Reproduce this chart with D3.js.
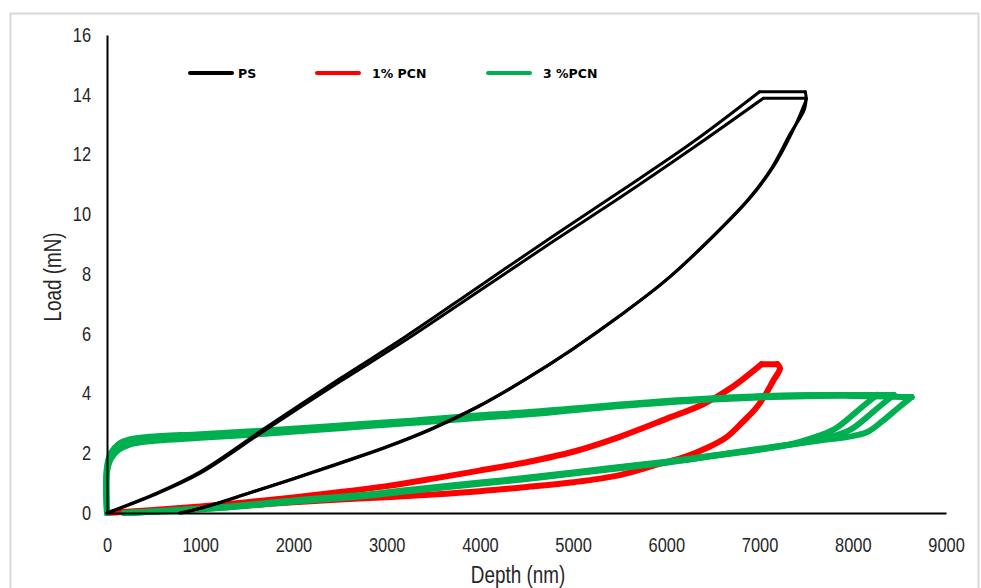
<!DOCTYPE html>
<html>
<head>
<meta charset="utf-8">
<script src="https://d3js.org/d3.v7.min.js"></script>
<style>
  body { margin: 0; background: #fff; }
  .tick text { font-family: "Liberation Sans", Arial, sans-serif; font-size: 20px; fill: #262626; }
  .title { font-family: "Liberation Sans", Arial, sans-serif; font-size: 23px; fill: #262626; }
  .legend text { font-family: "DejaVu Sans", Verdana, sans-serif; font-weight: bold; font-size: 12.5px; fill: #000; }
</style>
</head>
<body>
<div id="chart"></div>
<script>
// series
const seriesNames = ["PS", "1% PCN", "3 %PCN"];
const seriesColors = ["#000000", "#ff0000", "#00b050"];

const xTicks = [0, 1000, 2000, 3000, 4000, 5000, 6000, 7000, 8000, 9000];
const yTicks = [0, 2, 4, 6, 8, 10, 12, 14, 16];

// [depth nm, load mN]; each indentation = loading curve, then unloading curve
// PS
const psLoad1 = [
  [0, 0], [500, 0.62], [1000, 1.38], [1700, 2.85], [2500, 4.5], [3200, 5.9], [4000, 7.6],
  [4800, 9.3], [5500, 10.75], [6300, 12.45], [7000, 14.1]
];
const psUnload1 = [
  [7490, 14.1], [7500, 13.85], [7470, 13.6], [7350, 12.75], [7150, 11.6], [6900, 10.55],
  [6500, 9.25], [6000, 7.8], [5500, 6.6], [5000, 5.5], [4500, 4.5], [4000, 3.6],
  [3500, 2.85], [3000, 2.22], [2500, 1.68], [2000, 1.15], [1500, 0.65], [1100, 0.25], [800, 0]
];
const psLoad2 = [
  [0, 0], [500, 0.6], [1000, 1.33], [1700, 2.78], [2500, 4.4], [3200, 5.78], [4000, 7.45],
  [4800, 9.12], [5500, 10.55], [6300, 12.25], [7040, 13.88]
];
const psUnload2 = [
  [7500, 13.88], [7480, 13.5], [7330, 12.7], [7130, 11.55], [6880, 10.5], [6480, 9.2],
  [5980, 7.75], [5480, 6.55], [4980, 5.45], [4480, 4.45], [3980, 3.55], [3480, 2.8],
  [2980, 2.18], [2480, 1.64], [1980, 1.12], [1480, 0.62], [1080, 0.22], [780, 0]
];

// 1% PCN
const pcn1Load1 = [
  [0, 0], [500, 0.1], [1000, 0.22], [1500, 0.36], [2000, 0.52], [2500, 0.7], [3000, 0.9],
  [3500, 1.15], [4000, 1.42], [4500, 1.7], [5000, 2.05], [5500, 2.55], [6000, 3.15],
  [6400, 3.65], [6700, 4.2], [7020, 4.98]
];
const pcn1Unload1 = [
  [7190, 4.98], [7220, 4.85], [7145, 4.42], [7070, 4.0], [6960, 3.5], [6820, 3.05],
  [6650, 2.55], [6450, 2.2], [6200, 1.88], [5900, 1.62], [5500, 1.27], [5000, 1.03],
  [4500, 0.87], [4000, 0.73], [3500, 0.62], [3000, 0.53], [2500, 0.45], [2000, 0.36],
  [1500, 0.26], [1000, 0.16], [500, 0.06], [200, 0]
];

// 3 %PCN
const pcn3Load1 = [
  [0, 0], [0, 1.55], [40, 2.0], [120, 2.3], [250, 2.47], [450, 2.55], [1000, 2.64],
  [1700, 2.76], [2500, 2.93], [3300, 3.1], [4000, 3.27], [4500, 3.37], [5000, 3.5],
  [5500, 3.63], [6000, 3.75], [6500, 3.84], [7000, 3.91], [7500, 3.94], [8260, 3.95]
];
const pcn3Unload1 = [
  [8260, 3.95], [8100, 3.55], [7950, 3.15], [7800, 2.8], [7650, 2.6], [7450, 2.4], [7300, 2.28],
  [7000, 2.12], [6600, 1.95], [6000, 1.68], [5500, 1.5], [5000, 1.32], [4450, 1.12],
  [4000, 0.98], [3200, 0.72], [2800, 0.58], [2000, 0.38], [1350, 0.2], [700, 0.07], [220, 0]
];
const pcn3Load2 = [
  [0, 0], [0, 1.45], [40, 1.9], [120, 2.2], [250, 2.38], [450, 2.46], [1000, 2.57],
  [1700, 2.7], [2500, 2.88], [3300, 3.05], [4000, 3.22], [4500, 3.33], [5000, 3.46],
  [5500, 3.6], [6000, 3.72], [6500, 3.82], [7000, 3.9], [7500, 3.94], [8440, 3.95]
];
const pcn3Unload2 = [
  [8440, 3.95], [8280, 3.55], [8130, 3.15], [7980, 2.8], [7820, 2.6], [7600, 2.45], [7350, 2.3],
  [7000, 2.13], [6600, 1.96], [6000, 1.7], [5500, 1.52], [5000, 1.34], [4450, 1.14],
  [4000, 1.0], [3200, 0.74], [2800, 0.6], [2000, 0.4], [1350, 0.21], [700, 0.08], [200, 0]
];
const pcn3Load3 = [
  [0, 0], [0, 1.35], [40, 1.8], [120, 2.1], [250, 2.3], [450, 2.4], [1000, 2.52],
  [1700, 2.65], [2500, 2.84], [3300, 3.02], [4000, 3.19], [4500, 3.3], [5000, 3.44],
  [5500, 3.58], [6000, 3.7], [6500, 3.8], [7000, 3.87], [7500, 3.91], [8000, 3.92], [8630, 3.88]
];
const pcn3Unload3 = [
  [8630, 3.88], [8480, 3.5], [8320, 3.08], [8150, 2.7], [7950, 2.55], [7700, 2.45], [7400, 2.32],
  [7000, 2.15], [6600, 1.97], [6000, 1.72], [5500, 1.54], [5000, 1.36], [4450, 1.16],
  [4000, 1.02], [3200, 0.76], [2800, 0.62], [2000, 0.42], [1350, 0.23], [700, 0.09], [180, 0]
];

const runs = [
  { s: 1, load: pcn1Load1, unload: pcn1Unload1 },
  { s: 2, load: pcn3Load1, unload: pcn3Unload1 },
  { s: 2, load: pcn3Load2, unload: pcn3Unload2 },
  { s: 2, load: pcn3Load3, unload: pcn3Unload3 },
  { s: 0, load: psLoad1, unload: psUnload1 },
  { s: 0, load: psLoad2, unload: psUnload2 }
];

const width = 981, height = 588;
const strokeW = [3, 6, 6];

const svg = d3.select("#chart").append("svg")
  .attr("width", width)
  .attr("height", height);

// chart area border
svg.append("rect")
  .attr("x", 10.5).attr("y", 13.5)
  .attr("width", 968).attr("height", 620)
  .attr("fill", "none")
  .attr("stroke", "#d9d9d9")
  .attr("stroke-width", 2);

const x = d3.scaleLinear().domain([0, 9000]).range([107, 946]);
const y = d3.scaleLinear().domain([0, 16]).range([513, 35]);

const smooth = d3.line()
  .x(d => x(d[0]))
  .y(d => y(d[1]))
  .curve(d3.curveCatmullRom.alpha(0.5));
const straight = d3.line()
  .x(d => x(d[0]))
  .y(d => y(d[1]));

// loading, hold and unloading drawn as separate pieces so the corners stay sharp
const pieces = [];
runs.forEach(r => {
  pieces.push({ s: r.s, d: smooth(r.load) });
  pieces.push({ s: r.s, d: straight([r.load[r.load.length - 1], r.unload[0]]) });
  pieces.push({ s: r.s, d: smooth(r.unload) });
});

svg.append("g")
  .selectAll("path")
  .data(pieces)
  .join("path")
  .attr("d", d => d.d)
  .attr("fill", "none")
  .attr("stroke", d => seriesColors[d.s])
  .attr("stroke-width", d => strokeW[d.s])
  .attr("stroke-linejoin", "round")
  .attr("stroke-linecap", "round");

// narrow the Arial-like text to look like the original condensed face
function narrow(sel) {
  sel.each(function () {
    const w = this.getComputedTextLength();
    d3.select(this).attr("textLength", w * 0.82).attr("lengthAdjust", "spacingAndGlyphs");
  });
}

const xAxis = svg.append("g")
  .attr("transform", `translate(0,${y(0)})`)
  .call(d3.axisBottom(x).tickValues(xTicks).tickSize(0).tickSizeOuter(0).tickPadding(25).tickFormat(d3.format("d")));
xAxis.select(".domain").attr("stroke", "#000").attr("stroke-width", 2);
xAxis.selectAll(".tick text").call(narrow);

const yAxis = svg.append("g")
  .attr("transform", `translate(${x(0)},0)`)
  .call(d3.axisLeft(y).tickValues(yTicks).tickSize(0).tickSizeOuter(0).tickPadding(16));
yAxis.select(".domain").attr("stroke", "#000").attr("stroke-width", 2);
yAxis.selectAll(".tick text").call(narrow);

svg.append("text")
  .attr("class", "title")
  .attr("x", 518).attr("y", 583)
  .attr("text-anchor", "middle")
  .text("Depth (nm)")
  .call(narrow);

svg.append("text")
  .attr("class", "title")
  .attr("transform", "translate(61,277) rotate(-90)")
  .attr("text-anchor", "middle")
  .text("Load (mN)")
  .call(narrow);

// legend
const legendX = [190, 317, 488];
const legend = svg.append("g").attr("class", "legend");
const item = legend.selectAll("g")
  .data(seriesNames)
  .join("g")
  .attr("transform", (d, i) => `translate(${legendX[i]},73)`);
item.append("line")
  .attr("x1", 0).attr("x2", 42)
  .attr("stroke", (d, i) => seriesColors[i])
  .attr("stroke-width", 4)
  .attr("stroke-linecap", "round");
item.append("text")
  .attr("x", (d, i) => i === 0 ? 48 : 55)
  .attr("y", 4.5)
  .text(d => d);
</script>
</body>
</html>
